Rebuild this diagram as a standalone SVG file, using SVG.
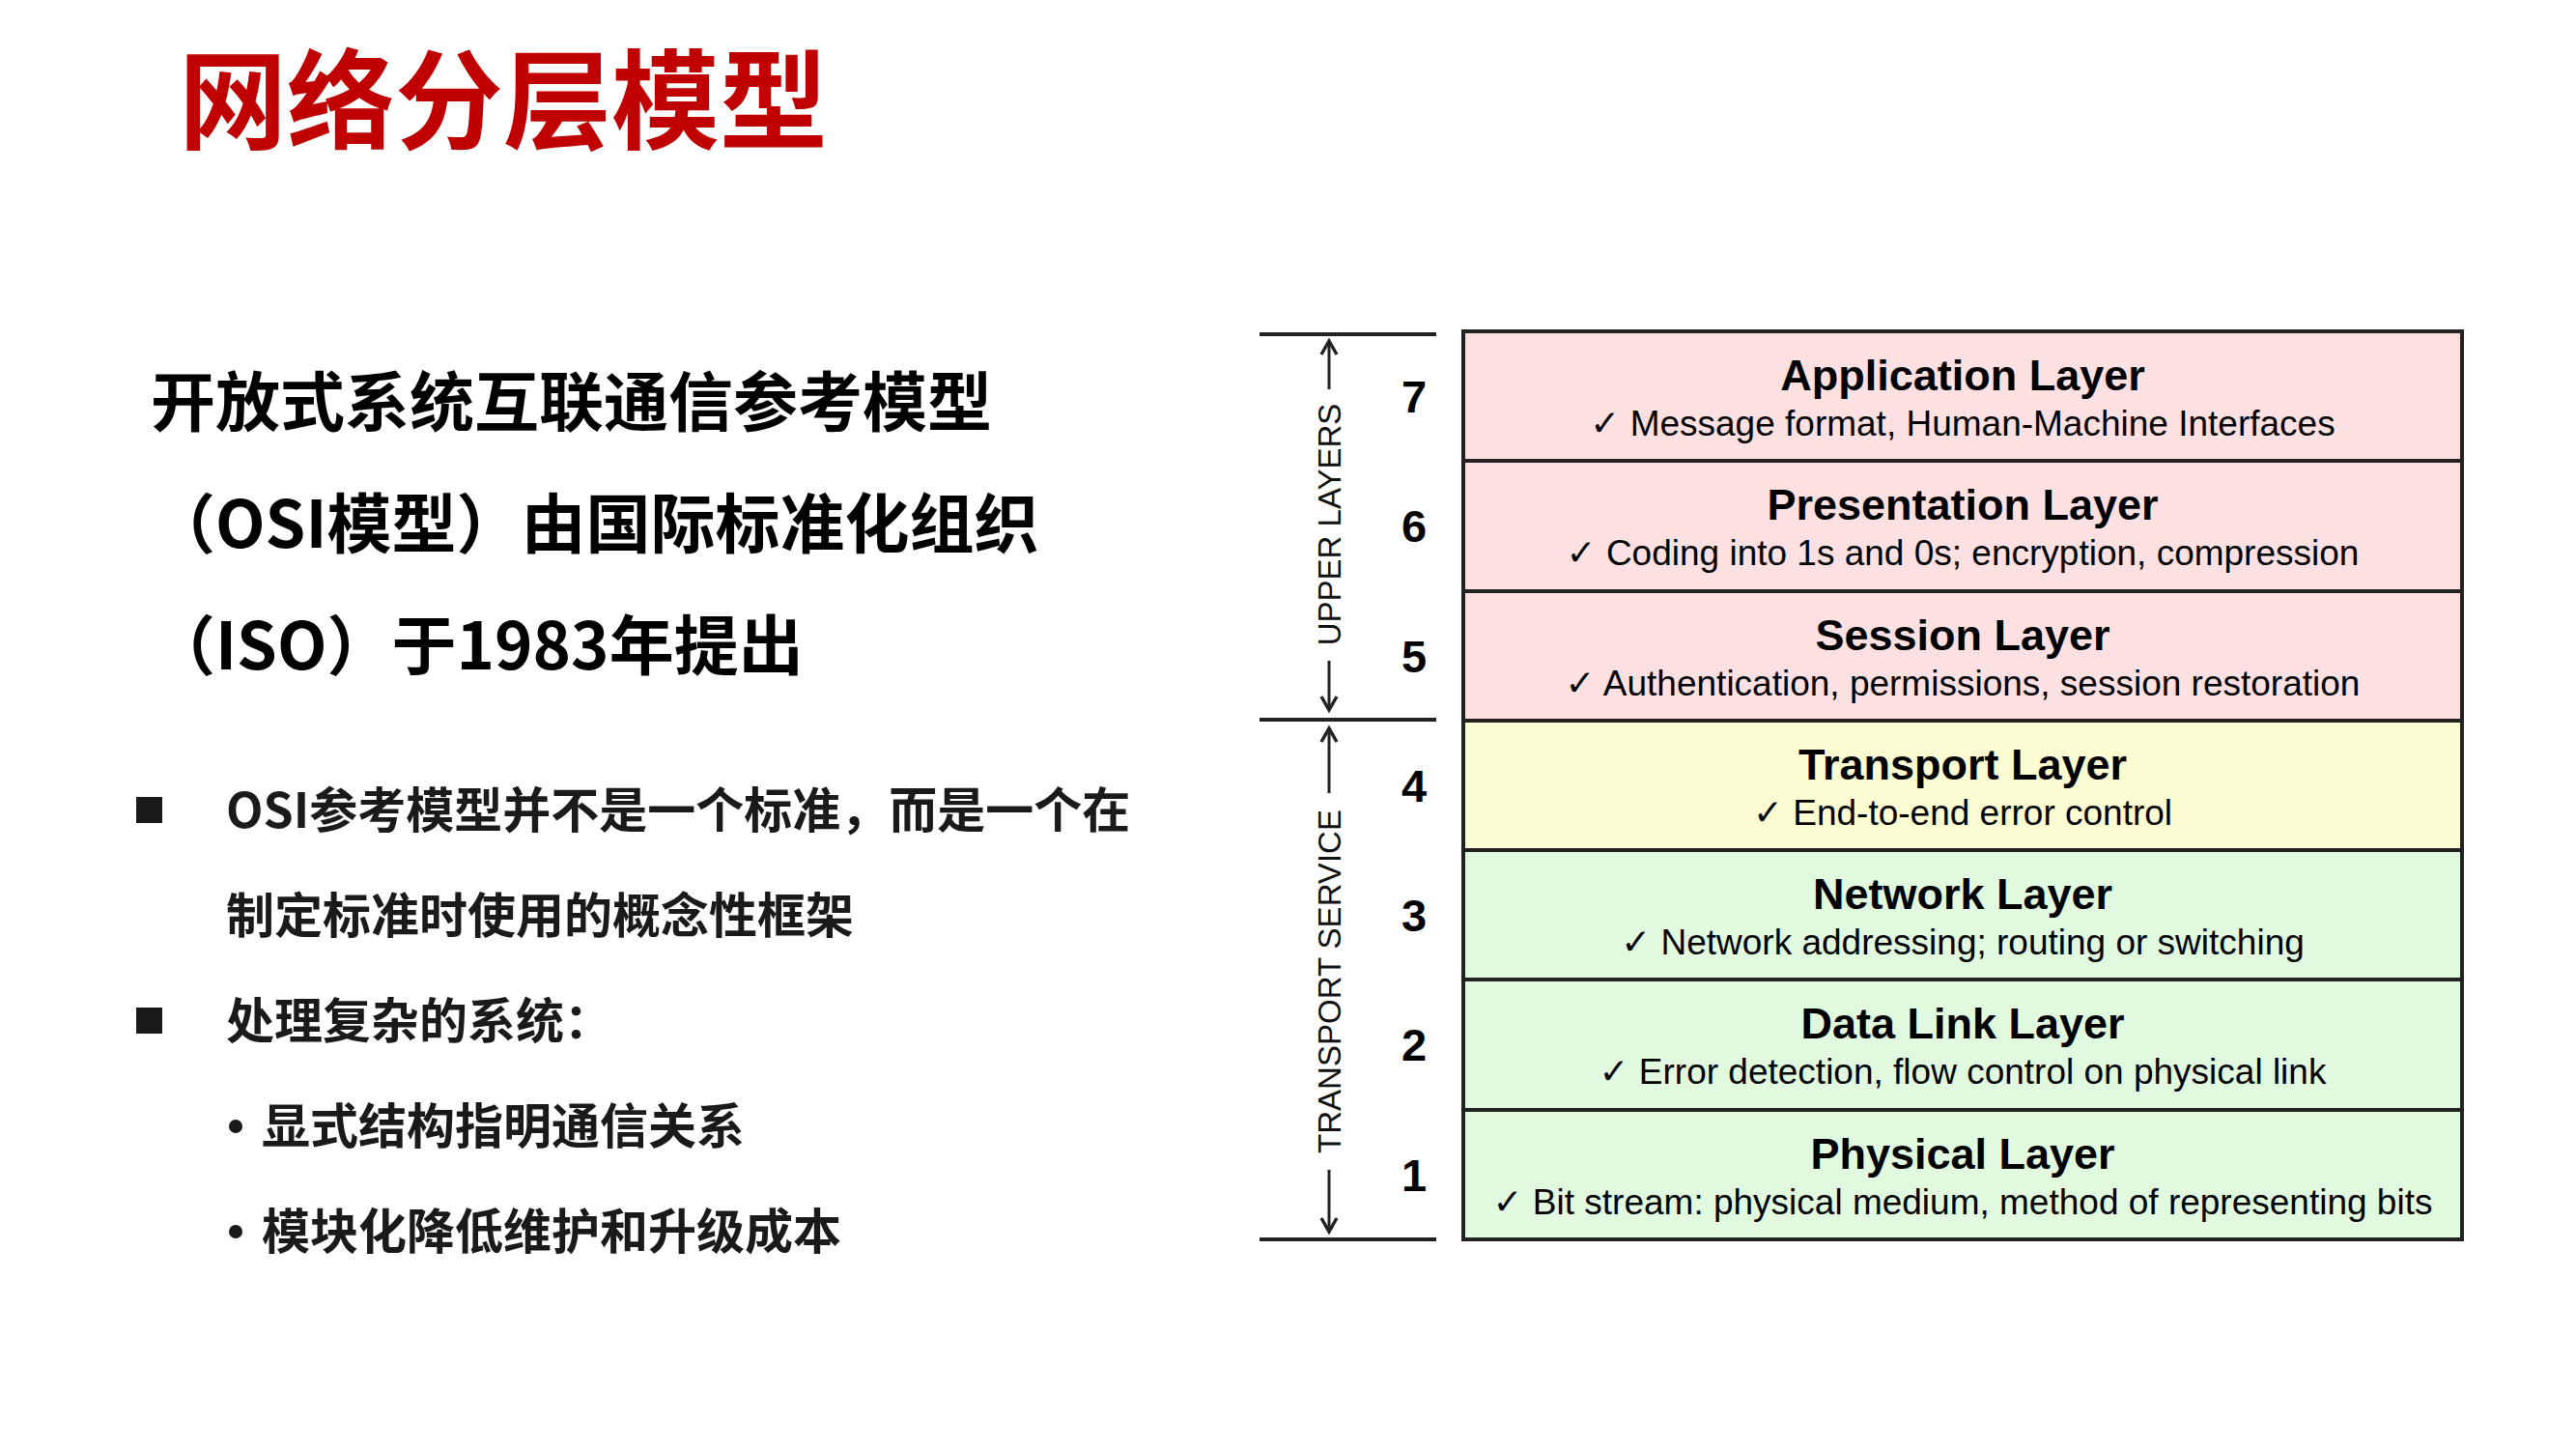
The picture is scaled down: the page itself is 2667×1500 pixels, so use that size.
<svg xmlns="http://www.w3.org/2000/svg" width="2667" height="1500" viewBox="0 0 2667 1500">
  <style>
    .cjk { font-family: "Noto Sans CJK SC", "Noto Sans", sans-serif; font-weight: 700; }
    .title { font-size: 112px; fill: #C00000; }
    .lead { font-size: 67px; fill: #000; }
    .item { font-size: 50px; fill: #1a1a1a; }
    .layer { stroke: #222; stroke-width: 4; }
    .upper { fill: #FDE0E1; }
    .mid { fill: #FCFCD2; }
    .lower { fill: #E1FADF; }
    .lname { font-family: "Liberation Sans", Arial, sans-serif; font-weight: 700; font-size: 45px; fill: #000; text-anchor: middle; }
    .ldesc { font-family: "Liberation Sans", Arial, "DejaVu Sans", sans-serif; font-size: 37px; fill: #000; text-anchor: middle; }
    .num { font-family: "Liberation Sans", Arial, sans-serif; font-weight: 700; font-size: 47px; fill: #000; text-anchor: middle; }
    .side { font-family: "Liberation Sans", Arial, sans-serif; font-size: 33px; fill: #111; text-anchor: middle; }
    .rule { stroke: #222; stroke-width: 4; }
    .arrow { stroke: #222; stroke-width: 3; fill: none; marker-end: url(#tip); }
  </style>
  <defs>
    <marker id="tip" viewBox="-16 -10 20 20" refX="0" refY="0" markerWidth="20" markerHeight="20" markerUnits="userSpaceOnUse" orient="auto">
      <path d="M-14,-8 L0,0 L-14,8" fill="none" stroke="#222" stroke-width="3.5" stroke-linejoin="miter"/>
    </marker>
  </defs>

  <rect width="2667" height="1500" fill="#fff"/>

  <!-- slide heading -->
  <text class="cjk title" x="185" y="146">网络分层模型</text>

  <!-- introduction -->
  <g id="intro">
    <text class="cjk lead" x="156" y="441">开放式系统互联通信参考模型</text>
    <text class="cjk lead" x="156" y="567">（OSI模型）由国际标准化组织</text>
    <text class="cjk lead" x="156" y="693">（ISO）于1983年提出</text>
  </g>

  <!-- bullet list -->
  <g id="bullets">
    <rect x="141" y="825" width="27" height="27" fill="#1a1a1a"/>
    <text class="cjk item" x="234" y="857">OSI参考模型并不是一个标准，而是一个在</text>
    <text class="cjk item" x="234" y="966">制定标准时使用的概念性框架</text>
    <rect x="141" y="1043" width="27" height="27" fill="#1a1a1a"/>
    <text class="cjk item" x="234" y="1075">处理复杂的系统：</text>
    <circle cx="244" cy="1166" r="7" fill="#1a1a1a"/>
    <text class="cjk item" x="271" y="1184">显式结构指明通信关系</text>
    <circle cx="244" cy="1275" r="7" fill="#1a1a1a"/>
    <text class="cjk item" x="271" y="1293">模块化降低维护和升级成本</text>
  </g>

  <!-- OSI layer stack -->
  <g id="layer7">
    <rect class="layer upper" x="1515" y="343" width="1034" height="134"/>
    <text class="num" x="1464" y="427">7</text>
    <text class="lname" x="2032" y="404">Application Layer</text>
    <text class="ldesc" x="2032" y="451">✓ Message format, Human-Machine Interfaces</text>
  </g>
  <g id="layer6">
    <rect class="layer upper" x="1515" y="477" width="1034" height="135"/>
    <text class="num" x="1464" y="561">6</text>
    <text class="lname" x="2032" y="538">Presentation Layer</text>
    <text class="ldesc" x="2032" y="585">✓ Coding into 1s and 0s; encryption, compression</text>
  </g>
  <g id="layer5">
    <rect class="layer upper" x="1515" y="612" width="1034" height="134"/>
    <text class="num" x="1464" y="696">5</text>
    <text class="lname" x="2032" y="673">Session Layer</text>
    <text class="ldesc" x="2032" y="720">✓ Authentication, permissions, session restoration</text>
  </g>
  <g id="layer4">
    <rect class="layer mid" x="1515" y="746" width="1034" height="134"/>
    <text class="num" x="1464" y="830">4</text>
    <text class="lname" x="2032" y="807">Transport Layer</text>
    <text class="ldesc" x="2032" y="854">✓ End-to-end error control</text>
  </g>
  <g id="layer3">
    <rect class="layer lower" x="1515" y="880" width="1034" height="134"/>
    <text class="num" x="1464" y="964">3</text>
    <text class="lname" x="2032" y="941">Network Layer</text>
    <text class="ldesc" x="2032" y="988">✓ Network addressing; routing or switching</text>
  </g>
  <g id="layer2">
    <rect class="layer lower" x="1515" y="1014" width="1034" height="135"/>
    <text class="num" x="1464" y="1098">2</text>
    <text class="lname" x="2032" y="1075">Data Link Layer</text>
    <text class="ldesc" x="2032" y="1122">✓ Error detection, flow control on physical link</text>
  </g>
  <g id="layer1">
    <rect class="layer lower" x="1515" y="1149" width="1034" height="134"/>
    <text class="num" x="1464" y="1233">1</text>
    <text class="lname" x="2032" y="1210">Physical Layer</text>
    <text class="ldesc" x="2032" y="1257">✓ Bit stream: physical medium, method of representing bits</text>
  </g>

  <!-- group brackets -->
  <g id="group-labels">
    <text class="side" transform="translate(1376,543) rotate(-90)" y="12">UPPER LAYERS</text>
    <text class="side" transform="translate(1376,1016) rotate(-90)" y="12">TRANSPORT SERVICE</text>
  </g>
  <g id="connectors">
    <line class="rule" x1="1304" y1="346" x2="1487" y2="346"/>
    <line class="rule" x1="1304" y1="745" x2="1487" y2="745"/>
    <line class="rule" x1="1304" y1="1283" x2="1487" y2="1283"/>
    <line class="arrow" x1="1376" y1="403" x2="1376" y2="353"/>
    <line class="arrow" x1="1376" y1="684" x2="1376" y2="735"/>
    <line class="arrow" x1="1376" y1="821" x2="1376" y2="754"/>
    <line class="arrow" x1="1376" y1="1211" x2="1376" y2="1275"/>
  </g>
</svg>
